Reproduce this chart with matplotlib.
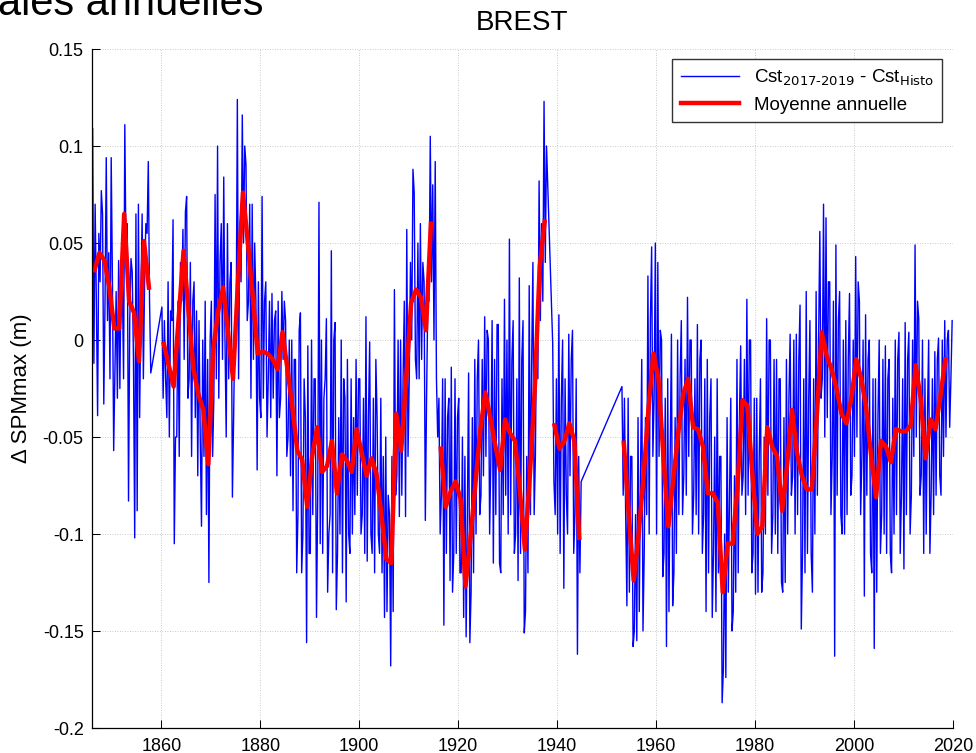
import numpy as np
import matplotlib
matplotlib.use("Agg")
import matplotlib.pyplot as plt

plt.rcParams['font.family'] = ['Liberation Sans', 'DejaVu Sans']
plt.rcParams['axes.unicode_minus'] = False

# blue series: 4 readings per year, in mm
blue_1846 = [
    [109, -12, 70, 20], [-39, 55, 30, 77], [65, -33, 20, 94], [10, 45, -20, 94],
    [30, -57, -15, 25], [-30, 41, -25, 35], [30, -20, 111, 40], [60, -83, 10, 42],
    [35, -10, -102, 65], [-88, 70, -40, 20], [65, -20, 30, 60], [55, 92, 20, -17],
]
blue_1860 = [
    [17, -30, 10, -20], [-40, 30, -50, 15], [10, 62, -105, -50], [-50, 20, -60, 40],
    [20, 57, -10, 66], [74, -30, -20, 40], [-60, 20, 30, -40], [15, -70, 10, -50],
    [-96, 0, -60, 20], [-90, -10, -125, 0], [20, -60, -30, 75], [-20, 100, -30, 40],
    [60, -10, 84, 0], [-50, 60, -20, 30], [40, -81, -40, 10], [0, 124, -20, 60],
    [30, 116, 50, 100], [90, 10, 20, 70], [-30, 70, -10, 50], [20, -67, 30, -30],
    [-40, 74, -30, 20], [30, -50, -20, 20], [-40, 24, -30, 10], [15, -70, 20, -40],
    [-30, 25, -10, 20], [10, -60, -50, 0], [-70, 0, -88, -10], [-10, -120, -90, 5],
    [14, -120, -100, -20], [-40, -156, -3, -110], [-110, 0, -90, -20], [-20, -143, -80, 71],
    [-105, 0, -110, -30], [-20, 11, -130, -100], [-90, 46, -120, 0], [9, -139, -110, -40],
    [-100, 0, -120, -20], [-30, -135, -10, -100], [-110, -20, -100, -40], [-90, -10, -80, -20],
    [-20, -100, -90, -30], [-110, 12, -114, -40], [-1, -100, -110, -30], [-120, -10, -40, -100],
    [-110, -30, -120, -60], [-143, -50, -140, -80], [-90, -168, -60, -140], [26, -80, -70, 0],
    [-91, 0, -80, -20], [20, -91, 57, -60], [-20, 40, 0, 88], [76, -10, -20, 50],
    [-20, 60, -10, 40], [30, -93, -30, 20], [20, 105, 30, 80], [0, 92, -20, -50],
]
blue_1916 = [
    [-30, -100, -80, -20], [-147, -20, -110, -40], [-30, -124, -14, -130], [-110, -20, -110, -40],
    [-30, -120, -120, -50], [-143, -60, -153, -90], [-17, -156, -130, -40], [-120, -10, -100, -20],
    [0, -90, -80, -10], [-70, 12, -60, 5], [0, -100, -60, 10], [-115, -10, -90, 8],
    [8, -115, -120, -20], [-90, 21, -80, 0], [-100, 52, -90, -10], [10, -110, -100, -20],
    [-124, 32, -110, -10], [10, -151, -140, -60], [-120, 28, -90, -10], [40, -90, -60, 10],
    [-20, 82, 10, 60], [20, 123, 40, 100],
]
blue_1939 = [
    [-2, -73, -90, -20], [-100, 13, -110, -30], [0, -128, -20, -80], [-100, 3, -70, -10],
    [5, -110, -90, -20], [-162, -60, -120, -73],
]
blue_1953 = [
    [-24, -80, -30, -90], [-137, -30, -130, -60], [-60, -158, -150, -90], [-155, -40, -140, -70],
    [-10, -150, -110, -40], [-90, 33, -100, 10], [48, -60, -30, 50], [-100, 40, -60, 5],
    [0, -122, -110, -30], [-158, -20, -140, -60], [3, -137, -120, -40], [-110, 0, -90, -20],
    [10, -90, -70, -10], [-80, 22, -60, 0], [0, -100, -80, -20], [-90, 8, -100, -10],
    [0, -110, -90, -20], [-140, -10, -120, -40], [-20, -143, -110, -50], [-140, -20, -120, -60],
    [-60, -187, -170, -100], [-174, -40, -130, -80], [-30, -150, -140, -70], [-130, -10, -120, -40],
    [-3, -80, -70, -10], [-90, 21, -80, 0], [0, -120, -110, -30], [-131, -30, -130, -60],
    [-20, -130, -120, -50], [-100, 11, -80, 0], [0, -110, -90, -10], [-100, -10, -110, -20],
    [-20, -125, -130, -40], [-125, -10, -100, -30], [3, -80, -70, 0], [-100, 3, -90, -10],
    [18, -149, -110, -20], [-120, 25, -110, -30], [10, -110, -130, -20], [-100, 25, -80, 0],
    [56, -30, -20, 70], [-50, 63, -40, 30], [30, -90, -60, 20], [-163, 49, -80, 10],
    [25, -90, -100, 0], [-100, 10, -90, -10], [24, -80, -70, 0], [-60, 43, -50, 30],
    [20, -90, -60, 0], [-132, 13, -80, -10], [0, -110, -120, -20], [-159, -20, -130, -40],
    [0, -110, -90, -10], [-100, -3, -110, -20], [-10, -110, -120, -30], [-100, 0, -90, -10],
    [4, -110, -80, -20], [-118, 9, -90, -10], [4, -100, -80, 0], [-60, 49, -50, 20],
    [11, -80, -70, 0], [-110, -20, -100, -40], [0, -110, -80, -20], [-90, -6, -80, -10],
    [1, -70, -80, 0], [-60, 10, -50, 0], [5, -45, -20, 10],
]
blue_starts = [1846, 1860, 1916, 1939, 1953]

# annual mean (m), nan where the year is missing
nan = np.nan
red_start = 1846
red_vals = [
    0.036, 0.045, 0.041, 0.027, 0.006, 0.006, 0.065, 0.020, 0.014, -0.011,   # 1846
    0.051, 0.027, nan, nan, -0.002, -0.013, -0.024, 0.011, 0.046, 0.015,     # 1856
    -0.015, -0.028, -0.036, -0.064, -0.005, 0.015, 0.027, 0.004, -0.020, 0.030,  # 1866
    0.076, 0.050, 0.022, -0.007, -0.006, -0.007, -0.010, -0.015, 0.004, -0.015,  # 1876
    -0.035, -0.057, -0.062, -0.086, -0.060, -0.045, -0.068, -0.065, -0.052, -0.079,  # 1886
    -0.059, -0.062, -0.068, -0.046, -0.058, -0.070, -0.061, -0.069, -0.090, -0.113,  # 1896
    -0.115, -0.038, -0.057, -0.020, 0.019, 0.026, 0.022, 0.005, 0.060, nan,   # 1906
    -0.056, -0.086, -0.078, -0.073, -0.082, -0.127, -0.102, -0.074, -0.046, -0.027,  # 1916
    -0.040, -0.054, -0.067, -0.041, -0.048, -0.052, -0.078, -0.108, -0.070, -0.025,  # 1926
    0.038, 0.061, nan, -0.044, -0.056, -0.052, -0.043, -0.052, -0.102, nan,   # 1936
    nan, nan, nan, nan, nan, nan, nan, -0.053, -0.090, -0.124,                # 1946
    -0.100, -0.070, -0.035, -0.007, -0.020, -0.060, -0.096, -0.072, -0.048, -0.028,  # 1956
    -0.020, -0.045, -0.046, -0.055, -0.079, -0.079, -0.084, -0.130, -0.105, -0.105,  # 1966
    -0.075, -0.031, -0.034, -0.070, -0.100, -0.096, -0.045, -0.055, -0.060, -0.088,  # 1976
    -0.065, -0.036, -0.058, -0.070, -0.077, -0.077, -0.040, 0.004, -0.008, -0.015,  # 1986
    -0.025, -0.038, -0.043, -0.030, -0.010, -0.020, -0.035, -0.060, -0.081, -0.052,  # 1996
    -0.055, -0.063, -0.046, -0.047, -0.047, -0.044, -0.013, -0.030, -0.061, -0.041,  # 2006
    -0.046, -0.029, -0.010,                                                   # 2016
]

yticks = [-0.2, -0.15, -0.1, -0.05, 0, 0.05, 0.1, 0.15]
ytick_labels = ['-0.2', '-0.15', '-0.1', '-0.05', '0', '0.05', '0.1', '0.15']
xticks = [1860, 1880, 1900, 1920, 1940, 1960, 1980, 2000, 2020]

# build blue x/y
bx, by = [], []
for start, rows in zip(blue_starts, [blue_1846, blue_1860, blue_1916, blue_1939, blue_1953]):
    for i, row in enumerate(rows):
        for k, v in enumerate(row):
            bx.append(start + i + (k + 0.5) / len(row))
            by.append(v / 1000.0)

rx = [red_start + i + 0.5 for i in range(len(red_vals))]

fig = plt.figure(figsize=(9.76, 7.53), dpi=100)
ax = fig.add_axes([0.0943, 0.0332, 0.8819, 0.9017])

ax.plot(bx, by, color='#0000ff', lw=1.0, label='Cst$_{2017\\text{-}2019}$ - Cst$_{\\mathrm{Histo}}$')
ax.plot(rx, red_vals, color='#ff0000', lw=3.2, label='Moyenne annuelle')

ax.set_xlim(1846, 2020)
ax.set_ylim(-0.2, 0.15)
ax.set_xticks(xticks)
ax.set_yticks(yticks)
ax.set_yticklabels(ytick_labels)
ax.tick_params(direction='in', length=6, width=0.75, labelsize=13, pad=6)
ax.tick_params(axis='x', pad=7)

ax.grid(True, color='#b8b8b8', linestyle=(0, (1, 2)), lw=0.6)
for s in ['top', 'right']:
    ax.spines[s].set_visible(False)
for s in ['left', 'bottom']:
    ax.spines[s].set_linewidth(0.9)

ax.set_ylabel('Δ SPMmax (m)', fontsize=16, labelpad=8)
ax.set_title('BREST', fontsize=20, pad=14)

leg = ax.legend(loc='upper right', fontsize=13.5, frameon=True, fancybox=False,
                edgecolor='#333333', framealpha=1, handlelength=3.1,
                borderaxespad=0.55, borderpad=0.45, labelspacing=0.45)
leg.get_frame().set_linewidth(1.0)

# slide title cut by the top edge, as in the original screenshot
fig.text(0.2695, 0.980, 'ales annuelles', fontsize=30, ha='right', va='baseline')

fig.savefig('out.png', dpi=100)
